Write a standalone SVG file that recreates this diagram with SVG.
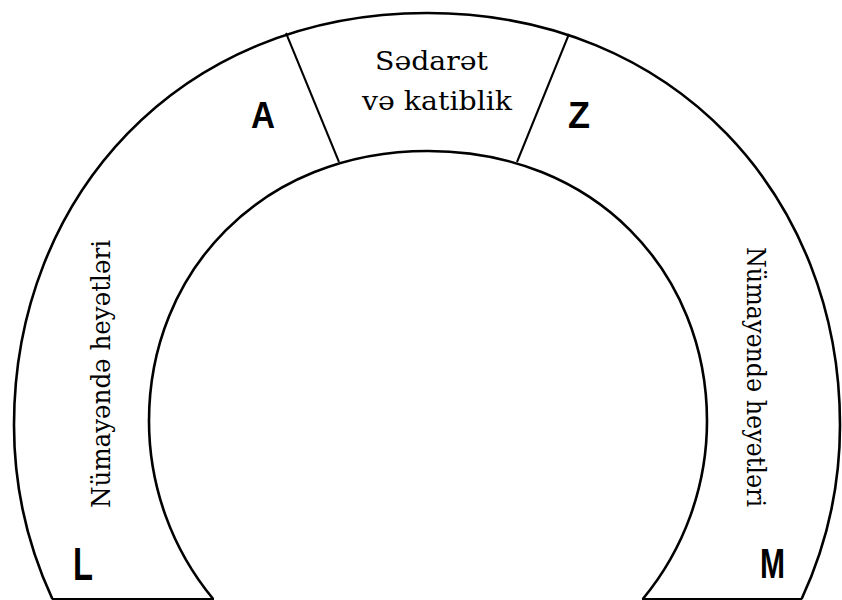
<svg xmlns="http://www.w3.org/2000/svg" width="842" height="600" viewBox="0 0 842 600">
<style>
.ring{fill:none;stroke:#000;stroke-width:2.6}
.div{fill:none;stroke:#000;stroke-width:2}
.serif{font-family:"DejaVu Serif","Liberation Serif",serif;font-size:26px;fill:#000}
.let{font-family:"Liberation Sans Narrow","Liberation Sans",Arial,sans-serif;font-weight:bold;fill:#000}
</style>
<rect width="842" height="600" fill="#fff"/>
<g id="connectors">
<path class="ring" d="M52.4,599 A413,413 0 0 1 14,425 C14,197.5 179,13 427,13 C675,13 840,197.5 840,425 A413,413 0 0 1 801.6,599"/>
<path class="ring" d="M213.2,599 A279,279 0 0 1 149,421 C149,272.5 260.6,151 428,151 C595.4,151 707,272.5 707,421 A279,279 0 0 1 642.8,599"/>
<line class="div" x1="52" y1="599" x2="214" y2="599"/>
<line class="div" x1="642" y1="599" x2="802" y2="599"/>
<line class="div" x1="286" y1="33" x2="339" y2="162"/>
<line class="div" x1="569" y1="34" x2="517" y2="162"/>
</g>
<g id="node-top">
<text class="serif" x="431.5" y="70" text-anchor="middle" textLength="113" lengthAdjust="spacingAndGlyphs">Sədarət</text>
<text class="serif" x="437" y="110" text-anchor="middle" textLength="150" lengthAdjust="spacingAndGlyphs">və katiblik</text>
</g>
<g id="node-left">
<text class="serif" transform="translate(110,374) rotate(-90)" x="0" y="0" text-anchor="middle" textLength="268" lengthAdjust="spacingAndGlyphs">Nümayəndə heyətləri</text>
<text class="let" x="263" y="128" font-size="36" text-anchor="middle" textLength="24" lengthAdjust="spacingAndGlyphs">A</text>
<text class="let" x="83" y="580" font-size="46" text-anchor="middle" textLength="20" lengthAdjust="spacingAndGlyphs">L</text>
</g>
<g id="node-right">
<text class="serif" transform="translate(747,377) rotate(90)" x="0" y="0" text-anchor="middle" textLength="260" lengthAdjust="spacingAndGlyphs">Nümayəndə heyətləri</text>
<text class="let" x="579" y="128" font-size="36" text-anchor="middle" textLength="22" lengthAdjust="spacingAndGlyphs">Z</text>
<text class="let" x="772.5" y="578" font-size="43" text-anchor="middle" textLength="25" lengthAdjust="spacingAndGlyphs">M</text>
</g>
</svg>
